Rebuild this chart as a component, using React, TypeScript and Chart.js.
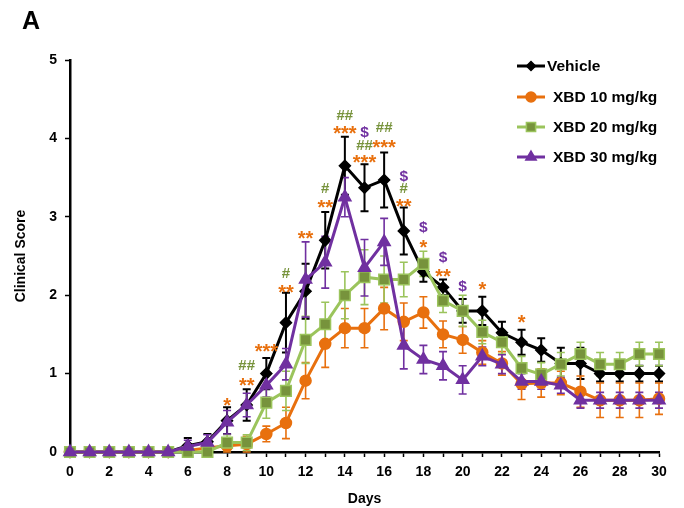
import React, { useEffect, useRef } from 'react';
import { Chart, registerables } from 'chart.js';
import { drawPoint } from 'chart.js/helpers';

Chart.register(...registerables);

const FONT = "'Liberation Sans', Arial, Helvetica, sans-serif";

// ---------------- data ----------------
const days = [0, 1, 2, 3, 4, 5, 6, 7, 8, 9, 10, 11, 12, 13, 14, 15, 16, 17, 18, 19, 20, 21, 22, 23, 24, 25, 26, 27, 28, 29, 30];

const vehicle = [0, 0, 0, 0, 0, 0, 0.08, 0.13, 0.4, 0.6, 1.0, 1.65, 2.05, 2.7, 3.65, 3.37, 3.47, 2.82, 2.3, 2.1, 1.8, 1.8, 1.52, 1.4, 1.3, 1.13, 1.13, 1.0, 1.0, 1.0, 1.0];
const vehicleErr = [0, 0, 0, 0, 0, 0, 0.1, 0.1, 0.17, 0.2, 0.2, 0.38, 0.35, 0.36, 0.37, 0.3, 0.35, 0.3, 0.13, 0.1, 0.15, 0.18, 0.14, 0.16, 0.15, 0.2, 0.2, 0.1, 0.1, 0.1, 0.1];

const xbd10 = [0, 0, 0, 0, 0, 0, 0.02, 0.05, 0.08, 0.1, 0.23, 0.37, 0.91, 1.38, 1.58, 1.58, 1.83, 1.66, 1.78, 1.5, 1.43, 1.27, 1.13, 0.87, 0.88, 0.88, 0.77, 0.66, 0.66, 0.66, 0.68];
const xbd10Err = [0, 0, 0, 0, 0, 0, 0, 0.05, 0.08, 0.1, 0.1, 0.2, 0.23, 0.3, 0.25, 0.25, 0.27, 0.24, 0.2, 0.17, 0.17, 0.15, 0.15, 0.2, 0.18, 0.15, 0.2, 0.22, 0.22, 0.22, 0.2];

const xbd20 = [0, 0, 0, 0, 0, 0, 0, 0, 0.12, 0.12, 0.63, 0.78, 1.43, 1.63, 2.0, 2.23, 2.2, 2.2, 2.4, 1.93, 1.8, 1.53, 1.4, 1.07, 0.99, 1.12, 1.25, 1.12, 1.12, 1.25, 1.25];
const xbd20Err = [0, 0, 0, 0, 0, 0, 0, 0, 0.1, 0.1, 0.2, 0.25, 0.3, 0.28, 0.3, 0.35, 0.3, 0.22, 0.16, 0.15, 0.2, 0.15, 0.15, 0.15, 0.15, 0.15, 0.15, 0.15, 0.15, 0.15, 0.15];

const xbd30 = [0, 0, 0, 0, 0, 0, 0.07, 0.12, 0.38, 0.6, 0.85, 1.12, 2.2, 2.42, 3.25, 2.35, 2.68, 1.36, 1.18, 1.1, 0.92, 1.22, 1.12, 0.9, 0.9, 0.85, 0.66, 0.66, 0.66, 0.66, 0.66];
const xbd30Err = [0, 0, 0, 0, 0, 0, 0.08, 0.1, 0.15, 0.15, 0.15, 0.2, 0.48, 0.33, 0.25, 0.36, 0.3, 0.3, 0.18, 0.18, 0.18, 0.12, 0.12, 0.1, 0.1, 0.1, 0.1, 0.1, 0.1, 0.1, 0.1];

const seriesNames = ['Vehicle', 'XBD 10 mg/kg', 'XBD 20 mg/kg', 'XBD 30 mg/kg'];

// significance marks (day, text, level in score units)
const starDays = [8, 9, 10, 11, 12, 13, 14, 15, 16, 17, 18, 19, 21, 23];
const starText = ['*', '**', '***', '**', '**', '**', '***', '***', '***', '**', '*', '**', '*', '*'];
const starLevel = [0.66, 0.91, 1.34, 2.1, 2.78, 3.18, 4.13, 3.76, 3.95, 3.19, 2.67, 2.3, 2.14, 1.71];

const hashDays = [9, 11, 13, 14, 15, 16, 17];
const hashText = ['##', '#', '#', '##', '##', '##', '#'];
const hashLevel = [1.11, 2.29, 3.37, 4.3, 3.92, 4.15, 3.37];

const dollarDays = [15, 17, 18, 19, 20];
const dollarText = ['$', '$', '$', '$', '$'];
const dollarLevel = [4.09, 3.53, 2.88, 2.5, 2.13];

// ---------------- styles ----------------
const BLACK = '#000000';
const ORANGE = '#E8700E';
const GREEN_LINE = '#9BC45C';
const GREEN_FILL = '#77933C';
const PURPLE = '#7030A0';

const specs = [
  { label: seriesNames[0], data: vehicle, err: vehicleErr, line: BLACK, fill: BLACK, border: BLACK, errColor: BLACK, style: 'rectRot', radius: 5.5, legendRadius: 4.5, order: 4 },
  { label: seriesNames[1], data: xbd10, err: xbd10Err, line: ORANGE, fill: ORANGE, border: ORANGE, errColor: ORANGE, style: 'circle', radius: 5.5, legendRadius: 5, order: 3 },
  { label: seriesNames[2], data: xbd20, err: xbd20Err, line: GREEN_LINE, fill: GREEN_FILL, border: GREEN_LINE, errColor: GREEN_LINE, style: 'rect', radius: 7.5, legendRadius: 6.5, order: 2 },
  { label: seriesNames[3], data: xbd30, err: xbd30Err, line: PURPLE, fill: PURPLE, border: PURPLE, errColor: PURPLE, style: 'triangle', radius: 7, legendRadius: 6, order: 1 },
];

const errorBarPlugin = {
  id: 'errorBars',
  beforeDatasetsDraw(chart: any) {
    const { ctx } = chart;
    const xs = chart.scales.x;
    const ys = chart.scales.y;
    ctx.save();
    specs.forEach((s) => {
      ctx.strokeStyle = s.errColor;
      ctx.lineWidth = s.errColor === BLACK ? 2 : 1.6;
      days.forEach((d, i) => {
        const e = s.err[i];
        if (!e) return;
        const x = xs.getPixelForValue(d);
        const yTop = ys.getPixelForValue(s.data[i] + e);
        const yBot = ys.getPixelForValue(Math.max(0, s.data[i] - e));
        const cap = 4;
        ctx.beginPath();
        ctx.moveTo(x, yTop);
        ctx.lineTo(x, yBot);
        ctx.moveTo(x - cap, yTop);
        ctx.lineTo(x + cap, yTop);
        ctx.moveTo(x - cap, yBot);
        ctx.lineTo(x + cap, yBot);
        ctx.stroke();
      });
    });
    ctx.restore();
  },
};

const marksPlugin = {
  id: 'marks',
  afterDatasetsDraw(chart: any) {
    const { ctx } = chart;
    const xs = chart.scales.x;
    const ys = chart.scales.y;
    ctx.save();
    ctx.textAlign = 'center';
    ctx.textBaseline = 'alphabetic';
    const drawGroup = (ds: number[], txt: string[], lv: number[], color: string, size: number, centerFrac: number) => {
      ctx.fillStyle = color;
      ctx.font = `bold ${size}px ${FONT}`;
      ds.forEach((d, i) => {
        const x = xs.getPixelForValue(d);
        const y = ys.getPixelForValue(lv[i]);
        ctx.fillText(txt[i], x, y + centerFrac * size);
      });
    };
    drawGroup(starDays, starText, starLevel, ORANGE, 20, 0.57);
    drawGroup(hashDays, hashText, hashLevel, GREEN_FILL, 15, 0.36);
    drawGroup(dollarDays, dollarText, dollarLevel, PURPLE, 15.5, 0.36);
    ctx.restore();
  },
};

const legendPlugin = {
  id: 'customLegend',
  afterDraw(chart: any) {
    const { ctx } = chart;
    ctx.save();
    const ys = [66, 97, 127, 157];
    const x0 = 517;
    const x1 = 545;
    specs.forEach((s, i) => {
      const y = ys[i];
      ctx.strokeStyle = s.line;
      ctx.lineWidth = 3;
      ctx.beginPath();
      ctx.moveTo(x0, y);
      ctx.lineTo(x1, y);
      ctx.stroke();
      ctx.fillStyle = s.fill;
      ctx.strokeStyle = s.border;
      ctx.lineWidth = 1.5;
      drawPoint(ctx, { pointStyle: s.style, radius: s.legendRadius, rotation: 0, borderWidth: 1.5 } as any, (x0 + x1) / 2, y);
    });
    ctx.restore();
    ctx.save();
    ctx.fillStyle = '#000';
    ctx.font = `bold 15.5px ${FONT}`;
    ctx.textBaseline = 'middle';
    ctx.textAlign = 'left';
    specs.forEach((s, i) => {
      const y = ys[i];
      ctx.fillText(s.label, i === 0 ? 547 : 553, y + 1);
    });
    ctx.font = `bold 25px ${FONT}`;
    ctx.fillText('A', 22, 22);
    ctx.restore();
  },
};

export default function App() {
  const ref = useRef<HTMLCanvasElement>(null);
  useEffect(() => {
    const canvas = ref.current!;
    const chart = new Chart(canvas, {
      type: 'line',
      data: {
        datasets: specs.map((s) => ({
          label: s.label,
          data: days.map((d, i) => ({ x: d, y: s.data[i] })),
          borderColor: s.line,
          backgroundColor: s.fill,
          pointBackgroundColor: s.fill,
          pointBorderColor: s.border,
          pointBorderWidth: 1.5,
          pointStyle: s.style as any,
          pointRadius: s.radius,
          borderWidth: 3,
          tension: 0,
          clip: false as any,
          order: s.order,
        })),
      },
      options: {
        animation: false,
        responsive: true,
        maintainAspectRatio: false,
        layout: { padding: { top: 60, right: 25, left: 8, bottom: 0 } },
        plugins: {
          legend: { display: false },
          tooltip: { enabled: false },
        },
        scales: {
          x: {
            type: 'linear',
            min: 0,
            max: 30,
            afterFit: (scale: any) => {
              scale.height = 56;
            },
            ticks: {
              stepSize: 1,
              autoSkip: false,
              maxRotation: 0,
              padding: 7,
              color: '#000',
              font: { family: FONT, size: 14, weight: 'bold' },
              callback: (v: any) => (Number(v) % 2 === 0 ? String(v) : ''),
            },
            grid: { drawOnChartArea: false, drawTicks: true, tickLength: 5, color: '#000', tickWidth: 1.5 },
            border: { display: true, color: '#000', width: 2.5 },
            title: {
              display: true,
              text: 'Days',
              color: '#000',
              font: { family: FONT, size: 14, weight: 'bold' },
              padding: { top: 0, bottom: 0 },
            },
          },
          y: {
            min: 0,
            max: 5,
            afterFit: (scale: any) => {
              scale.width = 62;
            },
            ticks: {
              stepSize: 1,
              padding: 8,
              color: '#000',
              font: { family: FONT, size: 14, weight: 'bold' },
            },
            grid: { drawOnChartArea: false, drawTicks: true, tickLength: 5, color: '#000', tickWidth: 1.5 },
            border: { display: true, color: '#000', width: 2.5 },
            title: {
              display: true,
              text: 'Clinical Score',
              color: '#000',
              font: { family: FONT, size: 14, weight: 'bold' },
              padding: { top: 5, bottom: 0 },
            },
          },
        },
      } as any,
      plugins: [errorBarPlugin, marksPlugin, legendPlugin],
    });
    return () => chart.destroy();
  }, []);
  return (
    <div style={{ position: 'fixed', left: 0, top: 0, width: 684, height: 508, background: '#fff' }}>
      <canvas ref={ref} />
    </div>
  );
}
